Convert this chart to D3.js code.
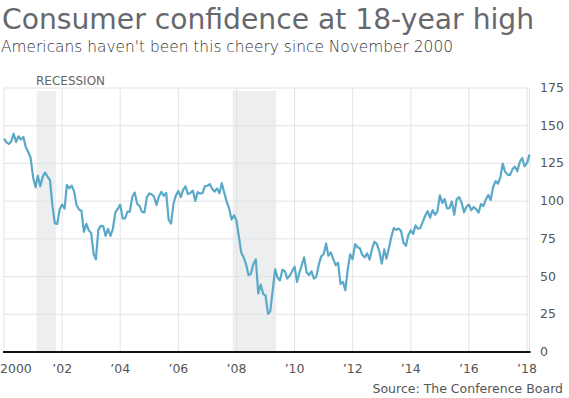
<!DOCTYPE html>
<html>
<head>
<meta charset="utf-8">
<script src="https://cdn.jsdelivr.net/npm/d3@7"></script>
<style>
  body { margin: 0; background: #fff; }
  svg { display: block; font-family: "DejaVu Sans", sans-serif; }
</style>
</head>
<body>
<svg id="chart" width="569" height="398"></svg>
<script>
// monthly index values, Jan 2000 .. Feb 2018
const startYear = 2000;
const values = [
  141.5, 139.0, 138.0, 139.5, 144.7, 139.2, 143.0, 140.8, 142.5, 135.8, 132.6, 128.6,
  115.7, 109.2, 116.9, 109.9, 116.1, 118.9, 116.3, 114.0, 97.0, 85.3, 84.9, 94.6,
  97.8, 95.0, 110.7, 108.5, 110.3, 106.3, 97.4, 94.5, 93.7, 79.6, 84.9, 80.7,
  78.8, 64.8, 61.4, 81.0, 83.6, 83.5, 77.0, 81.7, 77.0, 81.7, 92.5, 94.8,
  97.7, 88.5, 88.5, 93.0, 93.1, 102.8, 105.7, 98.2, 96.7, 92.9, 92.6, 102.7,
  105.1, 104.4, 103.0, 97.5, 103.1, 106.2, 103.6, 105.5, 87.5, 85.2, 98.3, 103.8,
  106.8, 102.7, 107.5, 109.8, 104.7, 105.4, 107.0, 100.2, 105.9, 105.1, 105.3, 110.0,
  110.2, 111.2, 108.2, 106.3, 108.5, 105.3, 111.9, 105.6, 99.5, 95.2, 87.8, 90.6,
  87.3, 76.4, 65.9, 62.8, 58.1, 51.0, 51.9, 58.5, 61.4, 38.8, 44.7, 38.6,
  37.4, 25.3, 26.9, 40.8, 54.8, 49.3, 47.4, 54.5, 53.4, 48.7, 50.6, 53.6,
  56.5, 46.4, 52.3, 57.7, 62.7, 52.9, 51.0, 53.5, 48.6, 49.9, 57.8, 63.4,
  64.8, 72.0, 63.8, 66.0, 61.7, 57.6, 59.2, 45.2, 46.4, 40.9, 55.2, 64.8,
  61.5, 71.6, 69.5, 68.7, 64.4, 62.7, 65.4, 61.3, 68.4, 73.1, 71.5, 66.7,
  58.6, 68.0, 61.9, 69.0, 76.2, 82.1, 81.0, 81.8, 80.2, 72.4, 70.4, 77.5,
  80.7, 78.3, 83.9, 81.7, 82.2, 86.4, 90.3, 93.4, 89.0, 94.1, 91.0, 93.1,
  103.8, 98.8, 101.4, 95.2, 95.4, 99.8, 91.0, 101.3, 102.6, 99.1, 92.6, 96.3,
  97.8, 94.0, 96.1, 94.7, 92.4, 98.0, 96.7, 101.1, 104.1, 100.8, 109.4, 113.3,
  111.6, 116.1, 124.9, 119.4, 117.6, 117.3, 121.1, 122.9, 119.8, 125.9, 128.6, 123.1,
  125.4, 130.8
];
const tickYears = [2000, 2002, 2004, 2006, 2008, 2010, 2012, 2014, 2016, 2018];
const tickLabels = ["2000", "\u201902", "\u201904", "\u201906", "\u201908", "\u201910", "\u201912", "\u201914", "\u201916", "\u201918"];
const yTicks = [0, 25, 50, 75, 100, 125, 150, 175];
const recessions = [["2001-02-15", "2001-10-15"], ["2007-11-15", "2009-05-15"]];

const data = values.map((v, i) => ({ date: new Date(startYear, i, 1), value: v }));

const svg = d3.select("#chart");

let x = d3.scaleTime()
  .domain([new Date(2000, 0, 1), new Date(2018, 1, 1)])
  .range([4, 529.5]);

let y = d3.scaleLinear()
  .domain([0, 175])
  .range([352, 88]);

// title
svg.append("text")
  .attr("x", 2).attr("y", 29)
  .attr("font-size", "28.2px")
  .attr("fill", "#67686e")
  .text("Consumer confidence at 18-year high");

const sub = svg.append("text")
  .attr("x", 1).attr("y", 52)
  .attr("font-size", "16.5px")
  .attr("font-weight", 200)
  .attr("fill", "#333")
  .text("Americans haven't been this cheery since November 2000");
// squeeze to the reference width if the light face is missing
if (sub.node().getComputedTextLength() > 455) {
  sub.attr("textLength", 452).attr("lengthAdjust", "spacingAndGlyphs");
}

// recession bands
svg.selectAll(".rec")
  .data(recessions)
  .join("rect")
  .attr("class", "rec")
  .attr("x", d => x(new Date(d[0])))
  .attr("width", d => x(new Date(d[1])) - x(new Date(d[0])))
  .attr("y", y(175) + 3)
  .attr("height", y(0) - y(175) - 3)
  .attr("fill", "#eceef0");

svg.append("text")
  .attr("x", 36)
  .attr("y", 85)
  .attr("font-size", "12px")
  .attr("fill", "#666")
  .text("RECESSION");

// grid
svg.selectAll(".hgrid")
  .data(yTicks.slice(1))
  .join("line")
  .attr("class", "hgrid")
  .attr("x1", x.range()[0]).attr("x2", x.range()[1])
  .attr("y1", d => y(d)).attr("y2", d => y(d))
  .attr("stroke", "#e3e3e3");

svg.selectAll(".vgrid")
  .data(tickYears)
  .join("line")
  .attr("class", "vgrid")
  .attr("x1", d => x(new Date(d, 0, 1))).attr("x2", d => x(new Date(d, 0, 1)))
  .attr("y1", y(175)).attr("y2", y(0))
  .attr("stroke", "#e3e3e3");

svg.append("line")
  .attr("x1", x.range()[1]).attr("x2", x.range()[1])
  .attr("y1", y(175)).attr("y2", y(0))
  .attr("stroke", "#e3e3e3");

// line
const line = d3.line()
  .x(d => x(d.date))
  .y(d => y(d.value));

svg.append("path")
  .datum(data)
  .attr("d", line)
  .attr("fill", "none")
  .attr("stroke", "#5ba9c8")
  .attr("stroke-width", 2.2)
  .attr("stroke-linejoin", "round");

// baseline
svg.append("line")
  .attr("x1", 3).attr("x2", x.range()[1] + 1)
  .attr("y1", y(0)).attr("y2", y(0))
  .attr("stroke", "#111")
  .attr("stroke-width", 2);

// x labels
svg.selectAll(".xlab")
  .data(tickYears)
  .join("text")
  .attr("class", "xlab")
  .attr("x", (d, i) => i === 0 ? 0 : x(new Date(d, 0, 1)))
  .attr("y", 373)
  .attr("text-anchor", (d, i) => i === 0 ? "start" : "middle")
  .attr("font-size", "12.5px")
  .attr("fill", "#555")
  .text((d, i) => tickLabels[i]);

// y labels (right)
svg.selectAll(".ylab")
  .data(yTicks)
  .join("text")
  .attr("class", "ylab")
  .attr("x", 540)
  .attr("y", d => y(d) + 4)
  .attr("font-size", "12.5px")
  .attr("fill", "#555")
  .text(d => d);

svg.append("text")
  .attr("x", 563).attr("y", 393)
  .attr("text-anchor", "end")
  .attr("font-size", "12.5px")
  .attr("fill", "#555")
  .text("Source: The Conference Board");
</script>
</body>
</html>
